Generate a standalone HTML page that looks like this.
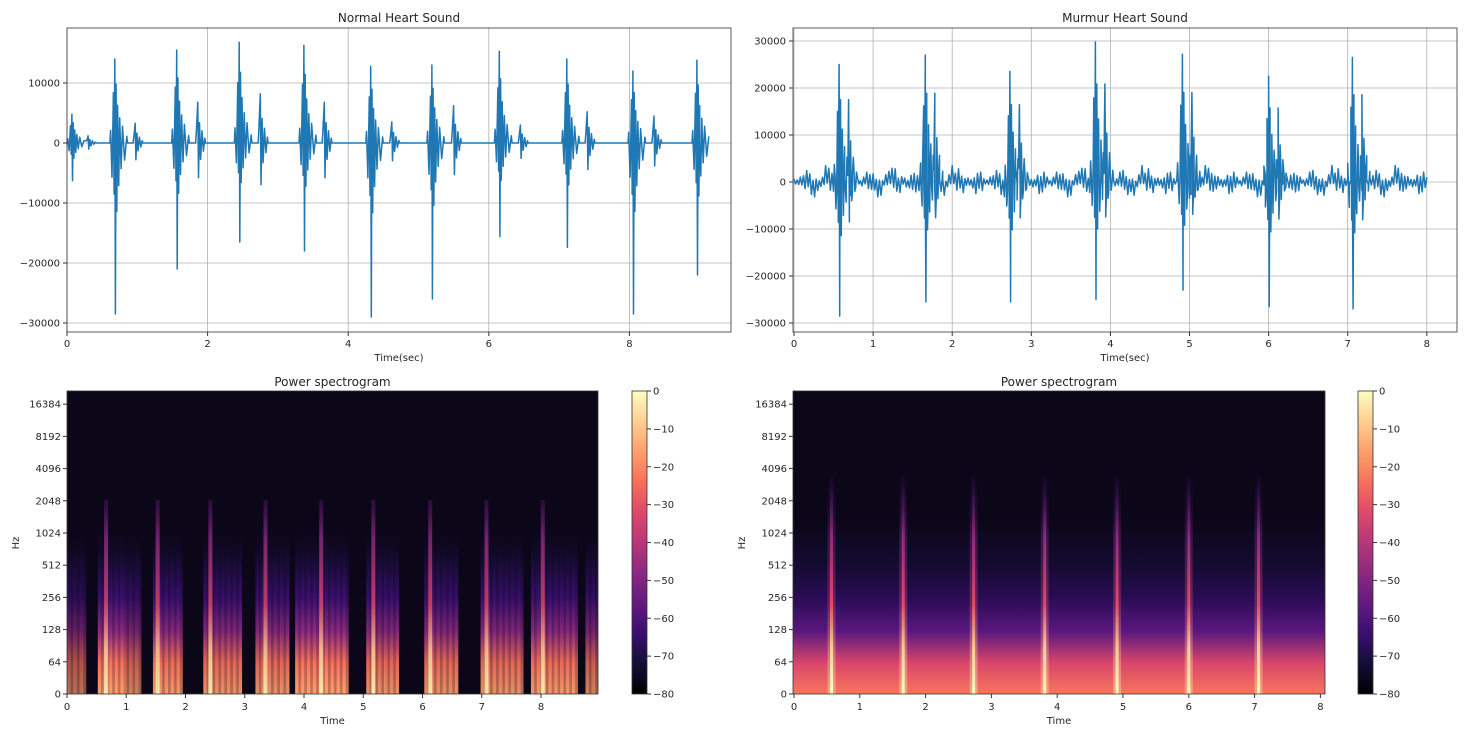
<!DOCTYPE html>
<html><head><meta charset="utf-8"><style>
body{margin:0;background:#fff;}
svg{display:block;font-family:"DejaVu Sans","Liberation Sans",sans-serif;}
</style></head><body>
<svg id="c" width="1465" height="736" viewBox="0 0 1465 736" xmlns="http://www.w3.org/2000/svg">
<defs>
<linearGradient id="magma" x1="0" y1="1" x2="0" y2="0">
<stop offset="0" stop-color="#000004"/><stop offset="0.1" stop-color="#140e36"/><stop offset="0.2" stop-color="#3b0f70"/><stop offset="0.3" stop-color="#641a80"/><stop offset="0.4" stop-color="#8c2981"/><stop offset="0.5" stop-color="#b73779"/><stop offset="0.6" stop-color="#de4968"/><stop offset="0.7" stop-color="#f7705c"/><stop offset="0.8" stop-color="#fe9f6d"/><stop offset="0.9" stop-color="#fecf92"/><stop offset="1" stop-color="#fcfdbf"/>
</linearGradient>
<linearGradient id="band" gradientUnits="userSpaceOnUse" x1="0" y1="694" x2="0" y2="520">
<stop offset="0" stop-color="#fe9f6d"/><stop offset="0.18" stop-color="#f7705c"/><stop offset="0.36" stop-color="#8c2981"/><stop offset="0.55" stop-color="#3b0f70"/><stop offset="0.75" stop-color="#1a0c3a"/><stop offset="1" stop-color="#0b0618" stop-opacity="0"/>
</linearGradient>
<linearGradient id="base" gradientUnits="userSpaceOnUse" x1="0" y1="694" x2="0" y2="520">
<stop offset="0" stop-color="#f8765c"/><stop offset="0.18" stop-color="#d8456a"/><stop offset="0.36" stop-color="#5a177e"/><stop offset="0.55" stop-color="#2a0c55"/><stop offset="0.75" stop-color="#140b30"/><stop offset="1" stop-color="#0b0618"/>
</linearGradient>
<linearGradient id="spike" gradientUnits="userSpaceOnUse" x1="0" y1="694" x2="0" y2="470">
<stop offset="0" stop-color="#fcfdbf"/><stop offset="0.2" stop-color="#fecf92"/><stop offset="0.4" stop-color="#de4968"/><stop offset="0.7" stop-color="#8c2981"/><stop offset="1" stop-color="#3b0f70" stop-opacity="0"/>
</linearGradient>
</defs>
</svg>
<script>
// ---- data ----
const normalBeatTimes=[0.07,0.68,1.56,2.45,3.37,4.32,5.19,6.15,7.11,8.05,8.96];
const normalPos=[4800,14000,15500,16800,16300,12800,13000,15300,14000,12000,13800];
const normalNeg=[-6300,-28500,-21000,-16500,-18000,-29000,-26000,-15600,-17400,-28500,-22000];
const normalS2Times=[0.3,0.97,1.86,2.75,3.66,4.62,5.5,6.45,7.4,8.35];
const normalS2Amp=[1200,3300,6800,8200,6800,3500,6200,3000,5200,4500];
const murmurBeatTimes=[0.57,1.66,2.73,3.81,4.91,6.0,7.06];
const murmurPos=[25000,27000,23500,29800,27200,22500,26500];
const murmurNeg=[-28500,-25500,-25500,-25000,-23000,-26500,-27000];
const murmurNoise=[1500,-2500,3000,-1000,800,-3500,2200,-600,4000,-2000,1200,-4500,2600,-800,600,-2800,3500,-1500,900,-3000,5000,-1200,1800,-2200,700,-4000,3000,-500,1500,-3200,2500,-1800,400,-2600,4200,-900,1600,-3800,2000,-1400];
const normalBands=[[0,0.32,0.7],[0.52,0.95,1],[0.95,1.25,0.8],[1.45,1.95,0.95],[2.3,2.95,0.9],[3.18,3.75,0.9],[3.85,4.75,1],[5.05,5.6,0.9],[6.03,6.6,0.9],[6.98,7.7,0.9],[7.83,8.62,0.95],[8.75,8.96,0.8]];
const normalSpikes=[0.66,1.53,2.42,3.35,4.29,5.17,6.13,7.08,8.03];
const murmurSpikes=[0.57,1.66,2.73,3.81,4.91,6.0,7.06];
const freqTicks=["0","64","128","256","512","1024","2048","4096","8192","16384"];
const cbTicks=[0,-10,-20,-30,-40,-50,-60,-70,-80];

const svg=document.getElementById('c');
const NS='http://www.w3.org/2000/svg';
function mk(tag,attrs,parent){const e=document.createElementNS(NS,tag);for(const k in attrs)e.setAttribute(k,attrs[k]);(parent||svg).appendChild(e);return e;}
function txt(x,y,s,anchor,size,parent){const t=mk('text',{x:x,y:y,'text-anchor':anchor||'middle','font-size':size||10,fill:'#262626'},parent);t.textContent=s;return t;}

const tmplS1=[[-0.06,0.15],[-0.04,-0.2],[-0.02,0.6],[-0.01,-0.3],[0,1],[0.008,-1],[0.018,0.7],[0.028,-0.4],[0.04,0.45],[0.055,-0.25],[0.07,0.3],[0.09,-0.15],[0.11,0.2],[0.14,-0.1],[0.17,0.08]];
const tmplS2=[[-0.02,0.3],[0,1],[0.01,-0.85],[0.025,0.5],[0.04,-0.4],[0.06,0.3],[0.08,-0.2],[0.1,0.12]];

function topAxes(name,x0,x1,y0,y1,X,Y,xticks,yticks,title){
  const g=mk('g',{});
  
  
  xticks.forEach(t=>{const x=X(t);mk('line',{x1:x,x2:x,y1:y0,y2:y1,stroke:'#b0b0b0','stroke-width':0.8},g);mk('line',{x1:x,x2:x,y1:y1,y2:y1+4,stroke:'#333'},g);txt(x,y1+15,String(t),'middle',10,g);});
  yticks.forEach(v=>{const y=Y(v);mk('line',{x1:x0,x2:x1,y1:y,y2:y,stroke:'#b0b0b0','stroke-width':0.8},g);mk('line',{x1:x0-4,x2:x0,y1:y,y2:y,stroke:'#333'},g);txt(x0-7,y+3.5,(v<0?'\u2212'+(-v):String(v)),'end',10,g);});
  const tt=txt((x0+x1)/2,22,title,'middle',12,g);
  const xl=txt((x0+x1)/2,y1+29,'Time(sec)','middle',10,g);
  return g;
}
function beatPoints(t,pos,neg,tm){const pts=[];tm.forEach(([dt,r])=>{pts.push([t+dt,r>0?r*pos:r*(-neg)]);});return pts;}

const X1=t=>67+70.3*t, Y1=v=>143-v*0.006;
topAxes('normal-waveform-axes',67,731,28,332,X1,Y1,[0,2,4,6,8],[10000,0,-10000,-20000,-30000],'Normal Heart Sound');
let pts=[[0,0]];
normalBeatTimes.forEach((t,i)=>{pts=pts.concat(beatPoints(t,normalPos[i],normalNeg[i],tmplS1));});
normalS2Times.forEach((t,i)=>{pts=pts.concat(beatPoints(t,normalS2Amp[i],-normalS2Amp[i],tmplS2));});
pts.push([9.0,0]);
pts.sort((a,b)=>a[0]-b[0]);
let d='';let prev=null;
pts.forEach(p=>{if(prev!==null&&p[0]-prev>0.05){d+='L'+X1(prev+0.01).toFixed(1)+' '+Y1(0)+'L'+X1(p[0]-0.01).toFixed(1)+' '+Y1(0);}d+=(d?'L':'M')+X1(p[0]).toFixed(1)+' '+Y1(p[1]).toFixed(1);prev=p[0];});
const l1=mk('path',{d:d,fill:'none',stroke:'#1f77b4','stroke-width':1.5,'stroke-linejoin':'round'});


mk('rect',{x:67,y:28,width:664,height:304,fill:'none',stroke:'#333','stroke-width':0.8});

const X2=t=>794+79.1*t, Y2=v=>182-v*0.0047;
topAxes('murmur-waveform-axes',793,1457,28,332,X2,Y2,[0,1,2,3,4,5,6,7,8],[30000,20000,10000,0,-10000,-20000,-30000],'Murmur Heart Sound');
let mp=[];
for(let i=0;i<=400;i++){const t=i*0.02;mp.push([t,murmurNoise[(i*7)%murmurNoise.length]*(i%3===0?0.45:0.7)]);}
murmurBeatTimes.forEach((t,i)=>{mp=mp.concat(beatPoints(t,murmurPos[i],murmurNeg[i],tmplS1));mp=mp.concat(beatPoints(t+0.12,murmurPos[i]*0.7,murmurNeg[i]*0.35,tmplS2));});
mp.sort((a,b)=>a[0]-b[0]);
const l2=mk('path',{d:mp.map((p,i)=>(i?'L':'M')+X2(p[0]).toFixed(1)+' '+Y2(p[1]).toFixed(1)).join(''),fill:'none',stroke:'#1f77b4','stroke-width':1.5,'stroke-linejoin':'round'});


mk('rect',{x:793,y:28,width:664,height:304,fill:'none',stroke:'#333','stroke-width':0.8});

function specAxes(name,x0,x1,X,xticks,cbx){
  const g=mk('g',{});
  
  
  mk('rect',{x:x0,y:391,width:x1-x0,height:303,fill:'#0b0618'},g);
  const tt=txt((x0+x1)/2,386,'Power spectrogram','middle',12,g);
  freqTicks.forEach((f,i)=>{const y=694-i*32.2;mk('line',{x1:x0-4,x2:x0,y1:y,y2:y,stroke:'#333'},g);txt(x0-6,y+3.5,f,'end',10,g);});
  xticks.forEach(t=>{const x=X(t);mk('line',{x1:x,x2:x,y1:694,y2:698,stroke:'#333'},g);txt(x,710,String(t),'middle',10,g);});
  const xl=txt((x0+x1)/2,724,'Time','middle',10,g);
  const yl=txt(0,0,'Hz','middle',10,g);yl.setAttribute('transform','translate('+(x0-48)+',543) rotate(-90)');
  const cb=mk('g',{});
  
  
  mk('rect',{x:cbx,y:391,width:15,height:303,fill:'url(#magma)',stroke:'#333','stroke-width':0.8},cb);
  cbTicks.forEach((v,i)=>{const y=391+i*303/8;mk('line',{x1:cbx+15,x2:cbx+19,y1:y,y2:y,stroke:'#333'},cb);txt(cbx+21,y+3.5,v<0?'\u2212'+(-v):String(v),'start',10,cb);});
  return g;
}
const XS1=t=>67+59.25*t;
const g1=specAxes('normal-spectrogram',67,598,XS1,[0,1,2,3,4,5,6,7,8],632);
normalBands.forEach(([a,b,k])=>{
  const n=Math.max(3,Math.round((b-a)/0.05));
  for(let j=0;j<n;j++){
    const ta=a+(b-a)*j/n,tb=a+(b-a)*(j+1)/n;
    const r=mk('rect',{x:XS1(ta),y:520,width:XS1(tb)-XS1(ta)+0.3,height:174,fill:'url(#band)',opacity:(k*(j%2?0.75:1)).toFixed(2)},g1);
    
    
  }
});
normalSpikes.forEach(t=>{
  const r=mk('rect',{x:XS1(t)-2,y:500,width:4,height:194,fill:'url(#spike)',opacity:0.8},g1);
  
  
});
mk('rect',{x:67,y:391,width:531,height:303,fill:'none',stroke:'#333','stroke-width':0.8},g1);

const XS2=t=>794+65.8*t;
const g2=specAxes('murmur-spectrogram',793,1325,XS2,[0,1,2,3,4,5,6,7,8],1358);
const base=mk('rect',{x:793,y:520,width:532,height:174,fill:'url(#base)'},g2);


murmurSpikes.forEach(t=>{
  const r=mk('rect',{x:XS2(t)-4,y:470,width:8,height:224,fill:'url(#spike)',opacity:0.35},g2);
  
  
  const r2=mk('rect',{x:XS2(t)-1.5,y:475,width:3,height:219,fill:'url(#spike)'},g2);
  
  
});
mk('rect',{x:793,y:391,width:532,height:303,fill:'none',stroke:'#333','stroke-width':0.8},g2);
</script>
</body></html>
